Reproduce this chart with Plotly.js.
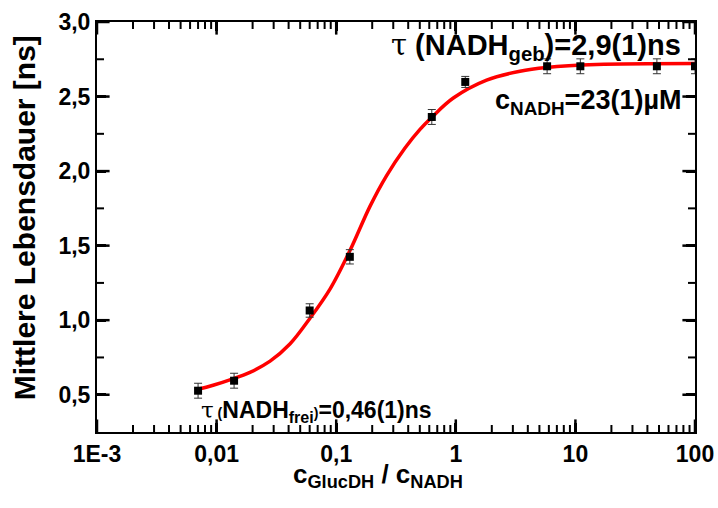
<!DOCTYPE html>
<html>
<head>
<meta charset="utf-8">
<script src="https://cdn.plot.ly/plotly-3.0.1.min.js"></script>
<style>html,body{margin:0;padding:0;background:#fff;}#chart{width:718px;height:508px;}</style>
</head>
<body>
<div id="chart"></div>
<script>
// measured data
const ratio    = [0.007, 0.014, 0.06, 0.13, 0.63, 1.2, 5.8, 11, 48, 100];
const lifetime = [0.527, 0.594, 1.065, 1.425, 2.363, 2.598, 2.703, 2.703, 2.703, 2.703];
const errLife  = [0.05, 0.05, 0.045, 0.048, 0.05, 0.037, 0.05, 0.05, 0.05, 0.05];
// fit curve
const fitX = [0.0066, 0.0095, 0.0129, 0.019, 0.028, 0.041, 0.060, 0.089, 0.130, 0.192, 0.264, 0.376, 0.502, 0.628, 0.953, 1.81, 3.44, 5.75, 15, 100];
const fitY = [0.53, 0.565, 0.60, 0.65, 0.725, 0.84, 1.01, 1.21, 1.465, 1.765, 1.97, 2.155, 2.28, 2.36, 2.49, 2.61, 2.67, 2.695, 2.715, 2.722];
// tick labels and tick positions
const xTickAlias = {'0.001': '1E-3', '0,001': '1E-3', '0.01': '0,01', '0.1': '0,1'};
const xMajor = [0.001, 0.01, 0.1, 1, 10, 100];
const yMajor = [0.5, 1.0, 1.5, 2.0, 2.5, 3.0];
const yMinorT = [0.75, 1.25, 1.75, 2.25, 2.75];
const xRangeLog = [-3, 2];
const yRange = [0.25, 3.0];

const F = 'Liberation Sans, Arial, sans-serif';

const xMinorT = [];
for (let e = -3; e < 2; e++) for (let m = 2; m <= 9; m++) xMinorT.push(m * Math.pow(10, e));

// inside tick marks drawn as clipped line markers on the frame edges
function tickTrace(xs, ys, symbol, size, w) {
  return {x: xs, y: ys, type: 'scatter', mode: 'markers', cliponaxis: true, hoverinfo: 'skip',
    marker: {symbol: symbol, size: size, color: '#000', line: {color: '#000', width: w}}};
}
const xLo = Math.pow(10, xRangeLog[0]), xHi = Math.pow(10, xRangeLog[1]);
const tickTraces = [];
[yRange[0], yRange[1]].forEach(edge => {
  tickTraces.push(tickTrace(xMajor, xMajor.map(() => edge), 'line-ns-open', 18, 2.5));
  tickTraces.push(tickTrace(xMinorT, xMinorT.map(() => edge), 'line-ns-open', 10, 2));
});
[xLo, xHi].forEach(edge => {
  tickTraces.push(tickTrace(yMajor.map(() => edge), yMajor, 'line-ew-open', 18, 2.5));
  tickTraces.push(tickTrace(yMinorT.map(() => edge), yMinorT, 'line-ew-open', 10, 2));
});

const traces = [
  {
    x: fitX, y: fitY, type: 'scatter', mode: 'lines',
    line: {color: '#ff0000', width: 3.5, shape: 'spline', smoothing: 1},
    hoverinfo: 'skip'
  },
  {
    x: ratio, y: lifetime, type: 'scatter', mode: 'markers',
    marker: {symbol: 'square', size: 8, color: '#000'},
    error_y: {type: 'data', array: errLife, visible: true, color: '#333', thickness: 1, width: 4}
  }
].concat(tickTraces);

const layout = {
  width: 718, height: 508,
  margin: {l: 97, r: 23, t: 22, b: 76},
  paper_bgcolor: '#fff', plot_bgcolor: '#fff',
  separators: ',.',
  showlegend: false,
  font: {family: F, color: '#000', size: 22},
  xaxis: {
    type: 'log', range: xRangeLog, tickmode: 'linear', tick0: 0, dtick: 1,
    labelalias: xTickAlias,
    showline: true, linecolor: '#000', linewidth: 2, mirror: 'allticks',
    ticks: 'inside', ticklen: 9, tickwidth: 2.5, tickcolor: '#000',
    showgrid: false, zeroline: false,
    tickfont: {family: F, size: 23, color: '#000', weight: 700}
  },
  yaxis: {
    range: yRange, tickmode: 'linear', tick0: 0, dtick: 0.5, tickformat: '.1f',
    showline: true, linecolor: '#000', linewidth: 2, mirror: 'allticks',
    ticks: 'inside', ticklen: 9, tickwidth: 2.5, tickcolor: '#000',
    showgrid: false, zeroline: false,
    tickfont: {family: F, size: 23, color: '#000', weight: 700}
  },
  annotations: [
    {xref: 'paper', yref: 'paper', x: -0.12, y: 0.522, xanchor: 'center', yanchor: 'middle', showarrow: false, textangle: -90,
     text: '<b>Mittlere Lebensdauer [ns]</b>', font: {family: F, size: 30, color: '#000'}},
    {xref: 'paper', yref: 'paper', x: 0.47, y: -0.105, xanchor: 'center', yanchor: 'middle', showarrow: false,
     text: '<b>c<sub>GlucDH</sub> / c<sub>NADH</sub></b>', font: {family: F, size: 26, color: '#000'}},
    {xref: 'paper', yref: 'paper', x: 0.98, y: 0.94, xanchor: 'right', yanchor: 'middle', showarrow: false,
     text: '<span style="font-family:DejaVu Serif;font-weight:normal">τ</span><b> (NADH<sub>geb</sub>)=2,9(1)ns</b>',
     font: {family: F, size: 29, color: '#000'}},
    {xref: 'paper', yref: 'paper', x: 0.98, y: 0.805, xanchor: 'right', yanchor: 'middle', showarrow: false,
     text: '<b>c<sub>NADH</sub>=23(1)µM</b>', font: {family: F, size: 27, color: '#000'}},
    {xref: 'paper', yref: 'paper', x: 0.17, y: 0.05, xanchor: 'left', yanchor: 'middle', showarrow: false,
     text: '<span style="font-family:DejaVu Serif;font-weight:normal">τ</span><b><span style="font-size:14px"> (</span>NADH<sub>frei</sub><span style="font-size:14px">)</span>=0,46(1)ns</b>',
     font: {family: F, size: 23, color: '#000'}}
  ]
};

Plotly.newPlot('chart', traces, layout, {displayModeBar: false});
</script>
</body>
</html>
